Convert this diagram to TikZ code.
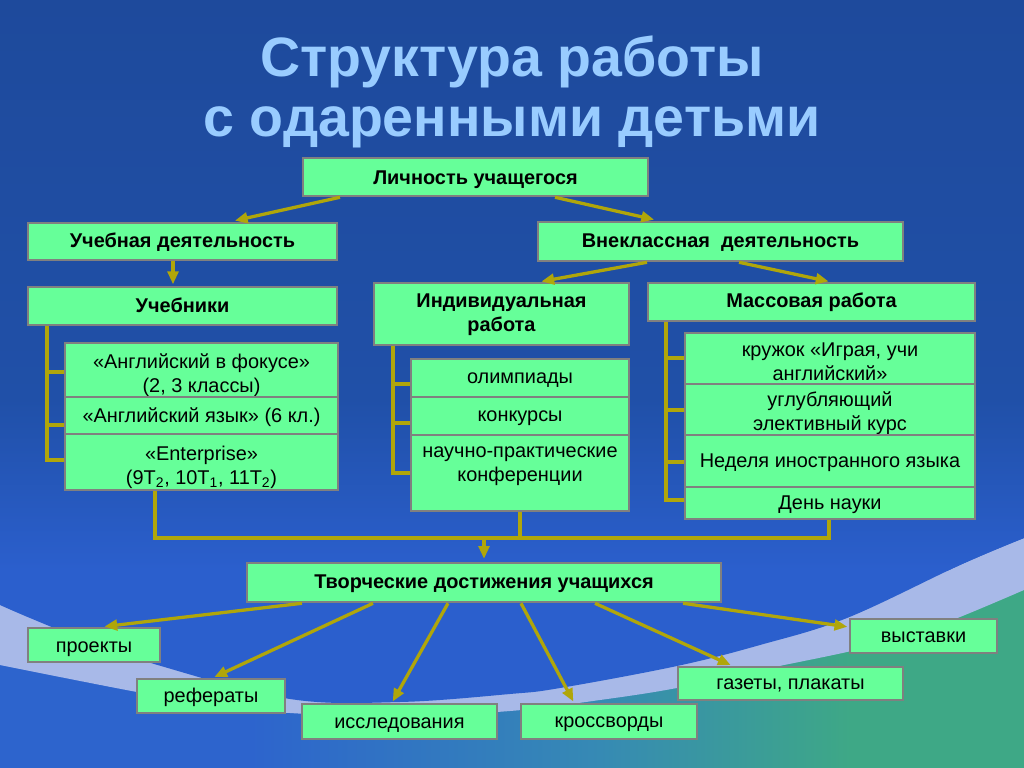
\documentclass[tikz,border=0pt]{standalone}
\usepackage{fontspec}
\setmainfont{Liberation Sans}
\usetikzlibrary{arrows.meta,calc}
\definecolor{mint}{RGB}{102,255,153}
\definecolor{boxgray}{RGB}{128,128,128}
\definecolor{olv}{RGB}{176,166,10}
\definecolor{titleblue}{RGB}{153,204,255}
\definecolor{topdark}{RGB}{30,74,156}
\definecolor{midblue}{RGB}{32,80,168}
\definecolor{lowblue}{RGB}{43,95,205}
\definecolor{lav}{RGB}{168,185,232}
\definecolor{botA}{RGB}{45,100,205}
\definecolor{botB}{RGB}{54,138,180}
\definecolor{botC}{RGB}{62,168,134}
\begin{document}
\begin{tikzpicture}[x=0.703125pt,y=-0.703125pt,
  wh/.style 2 args={minimum width=#1*0.703125pt,minimum height=#2*0.703125pt},
  bl/.style={execute at begin node={\rule[\dimexpr -10pt+#1pt*45/64\relax]{0pt}{20pt}}},
  box/.style={draw=boxgray,line width=1.8pt,fill=mint,inner sep=0pt,align=center,font=\fontsize{14}{17}\selectfont,text=black,bl=6},
  bbox/.style={box,font=\fontsize{14}{17}\selectfont\bfseries},
  txt/.style={inner sep=0pt,align=center,font=\fontsize{14}{17}\selectfont,text=black,execute at begin node={\strut}},
  ttl/.style={inner sep=0pt,anchor=base,font=\fontsize{39}{42}\selectfont\bfseries,text=titleblue},
  conn/.style={draw=olv,line width=2.3pt},
  arr/.style={conn,-{Triangle[length=9pt,width=7.5pt]},shorten >=#1},
  arr/.default=1pt]
\useasboundingbox (0,0) rectangle (1024,768);
% ---------- background ----------
\fill[botA] (0,500) rectangle (251,768);
\shade[left color=botA,right color=botB] (250,500) rectangle (601,768);
\shade[left color=botB,right color=botC] (600,500) rectangle (851,768);
\fill[botC] (850,500) rectangle (1024,768);
\fill[lav] (0,0) -- (1024,0) -- (1024,590) -- plot[smooth,tension=0.6] coordinates {(1024,590) (960,617) (903,638) (847,652) (760,670) (677,688) (600,700) (510,711) (400,716) (290,713) (200,703) (137,692) (60,677) (0,665)} -- cycle;
\begin{scope}
\clip (0,0) -- (1024,0) -- (1024,538) -- plot[smooth,tension=0.6] coordinates {(1024,538) (960,565) (847,618) (760,645) (677,666) (560,688) (510,694) (400,702) (290,699) (161,666) (80,638) (30,618) (0,605)} -- cycle;
\fill[lowblue] (0,0) rectangle (1024,768);
\shade[top color=topdark,bottom color=midblue] (0,0) rectangle (1024,400);
\shade[top color=midblue,bottom color=lowblue] (0,399) rectangle (1024,570);
\end{scope}
% ---------- title ----------
\node[ttl] (t1) at (512,77) {Структура работы};
\node[ttl] (t2) at (512,137) {с одаренными детьми};
% ---------- top level ----------
\node[bbox,bl=8.5,wh={345}{38}] (lich) at (475.5,177) {Личность учащегося};
\node[bbox,bl=6,wh={309}{37}] (uch) at (182.5,241.5) {Учебная деятельность};
\node[bbox,bl=5.5,wh={365}{39}] (vnekl) at (720.5,241.5) {Внеклассная~~деятельность};
\node[bbox,bl=7,wh={309}{38}] (uchebn) at (182.5,306) {Учебники};
\node[bbox,wh={255}{62}] (indiv) at (501.5,314) {};
\node[txt,font=\fontsize{14}{17}\selectfont\bfseries] (indivt) at (501.5,316) {Индивидуальная\\\strut работа};
\node[bbox,bl=5,wh={327}{38}] (mass) at (811.5,302) {Массовая работа};
% ---------- left stack ----------
\node[box,wh={273}{54}] (l1) at (201.5,370) {};
\node[txt] (l1t) at (201.5,376.5) {«Английский в фокусе»\\\strut(2, 3 классы)};
\node[box,bl=7.5,wh={273}{37}] (l2) at (201.5,415.5) {«Английский язык» (6 кл.)};
\node[box,wh={273}{56}] (l3) at (201.5,462) {};
\node[txt] (l3t) at (201.5,468.5) {«Enterprise»\\\strut(9T\textsubscript{2}, 10T\textsubscript{1}, 11T\textsubscript{2})};
% ---------- middle stack ----------
\node[box,bl=5,wh={218}{38}] (m1) at (520,378) {олимпиады};
\node[box,bl=5.5,wh={218}{38}] (m2) at (520,416) {конкурсы};
\node[box,wh={218}{76}] (m3) at (520,473) {};
\node[txt] (m3t) at (520,468) {научно-практические\\\strut конференции};
% ---------- right stack ----------
\node[box,wh={290}{51}] (r1) at (830,358.5) {};
\node[txt] (r1t) at (830,365) {кружок «Играя, учи\\\strut английский»};
\node[box,wh={290}{51}] (r2) at (830,409.5) {};
\node[txt] (r2t) at (830,414.5) {углубляющий\\\strut элективный курс};
\node[box,bl=7,wh={290}{52}] (r3) at (830,461) {Неделя иностранного языка};
\node[box,bl=6,wh={290}{32}] (r4) at (830,503) {День науки};
% ---------- result ----------
\node[bbox,bl=5.5,wh={474}{39}] (tvor) at (484,582.5) {Творческие достижения учащихся};
\node[box,bl=8,wh={132}{34}] (proj) at (94,645) {проекты};
\node[box,bl=6,wh={148}{34}] (ref) at (211,696) {рефераты};
\node[box,bl=7.5,wh={195}{35}] (issl) at (399.5,721.5) {исследования};
\node[box,bl=6.5,wh={176}{35}] (kross) at (609,721.5) {кроссворды};
\node[box,bl=6.5,wh={225}{33}] (gaz) at (790.5,683.5) {газеты, плакаты};
\node[box,bl=7.3,wh={147}{34}] (vyst) at (923.5,636) {выставки};
% ---------- arrows top ----------
\draw[arr=3.5pt] (340,0 |- lich.south) -- (230,0 |- uch.north);
\draw[arr=3.5pt] (555,0 |- lich.south) -- (659,0 |- vnekl.north);
\draw[arr] (173,0 |- uch.south) -- (173,0 |- uchebn.north);
\draw[arr] (647,0 |- vnekl.south) -- (540,0 |- indiv.north);
\draw[arr] (739,0 |- vnekl.south) -- (830,0 |- mass.north);
% ---------- brackets ----------
\draw[conn] (47,0 |- uchebn.south) -- (47,460) -- (l3.west |- 0,460);
\draw[conn] (47,372) -- (l1.west |- 0,372);
\draw[conn] (47,425) -- (l2.west |- 0,425);
\draw[conn] (393,0 |- indiv.south) -- (393,473) -- (m3.west |- 0,473);
\draw[conn] (393,384) -- (m1.west |- 0,384);
\draw[conn] (393,423) -- (m2.west |- 0,423);
\draw[conn] (666,0 |- mass.south) -- (666,500) -- (r4.west |- 0,500);
\draw[conn] (666,358) -- (r1.west |- 0,358);
\draw[conn] (666,410) -- (r2.west |- 0,410);
\draw[conn] (666,462) -- (r3.west |- 0,462);
% ---------- collector ----------
\coordinate (cl) at (155,538);
\coordinate (cr) at (829,538);
\coordinate (cm) at (484,538);
\draw[conn] (155,0 |- l3.south) -- (cl) -- (cr) -- (829,0 |- r4.south);
\draw[conn] (520,0 |- m3.south) -- (520,538);
\draw[arr=2pt] (cm) -- (484,0 |- tvor.north);
% ---------- arrows bottom ----------
\draw[arr] (302,0 |- tvor.south) -- (103,0 |- proj.north);
\draw[arr] (373,0 |- tvor.south) -- (213,0 |- ref.north);
\draw[arr] (448,0 |- tvor.south) -- (392,0 |- issl.north);
\draw[arr] (521,0 |- tvor.south) -- (574,0 |- kross.north);
\draw[arr] (595,0 |- tvor.south) -- (732,0 |- gaz.north);
\draw[arr] (683,0 |- tvor.south) -- (vyst.west |- 0,627);
\end{tikzpicture}
\end{document}
